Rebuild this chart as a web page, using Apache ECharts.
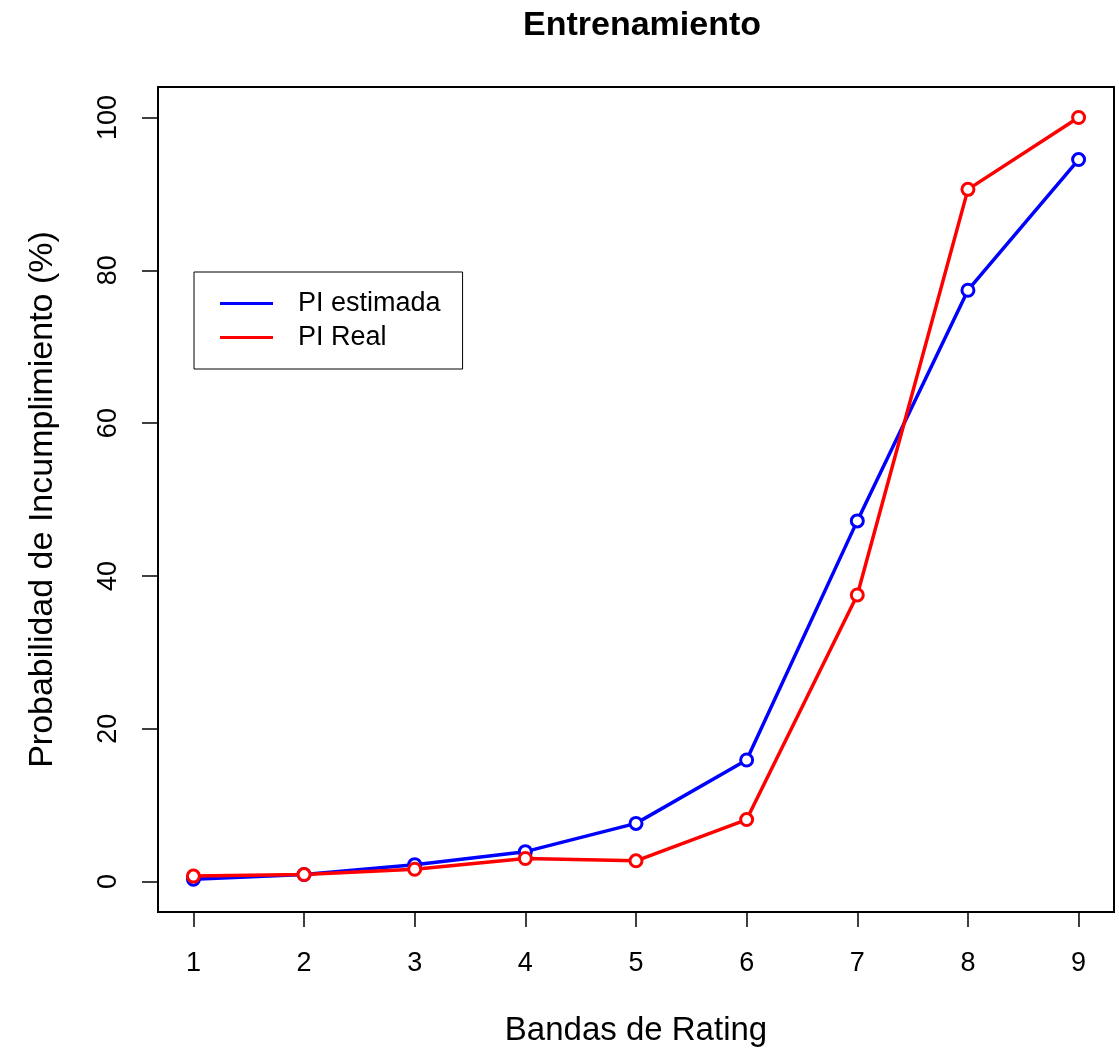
<!DOCTYPE html>
<html>
<head>
<meta charset="utf-8">
<script src="https://cdn.jsdelivr.net/npm/echarts@6/dist/echarts.min.js"></script>
<style>
html,body{margin:0;padding:0;background:#fff;}
#chart{width:1119px;height:1052px;}
</style>
</head>
<body>
<div id="chart"></div>
<script>
const bandas = [1, 2, 3, 4, 5, 6, 7, 8, 9];
const piEstimada = [0.3, 0.9, 2.2, 3.9, 7.6, 15.9, 47.2, 77.4, 94.5];
const piReal = [0.7, 0.9, 1.6, 3.0, 2.7, 8.1, 37.5, 90.6, 100];
const yTicks = [0, 20, 40, 60, 80, 100];
const seriesNames = ['PI estimada', 'PI Real'];
const seriesColors = ['#0000FF', '#FF0000'];

const FONT = 'Liberation Sans, Arial, sans-serif';
const chart = echarts.init(document.getElementById('chart'));

const mk = (vals) => bandas.map((b, i) => [b, vals[i]]);

chart.setOption({
  backgroundColor: '#ffffff',
  animation: false,
  title: {
    text: 'Entrenamiento',
    left: 637,
    top: 4,
    textAlign: 'center',
    textStyle: { fontFamily: FONT, fontWeight: 'bold', fontSize: 34, color: '#000' }
  },
  legend: {
    orient: 'vertical',
    left: 194,
    top: 272,
    padding: [18, 22, 18, 26],
    borderColor: '#000',
    borderWidth: 1,
    itemWidth: 53,
    itemHeight: 3,
    itemGap: 7,
    icon: 'rect',
    data: seriesNames.map((n, i) => ({ name: n, itemStyle: { color: seriesColors[i], borderWidth: 0 } })),
    textStyle: { fontFamily: FONT, fontSize: 27, color: '#000', padding: [0, 0, 0, 20] }
  },
  grid: {
    left: 158, right: 5, top: 87, bottom: 138,
    show: true, borderColor: '#000', borderWidth: 2, backgroundColor: 'transparent'
  },
  xAxis: {
    type: 'value',
    min: 0.68, max: 9.32,
    name: 'Bandas de Rating',
    nameLocation: 'middle',
    nameGap: 102,
    nameTextStyle: { fontFamily: FONT, fontSize: 33, color: '#000' },
    axisLine: { show: false, onZero: false },
    splitLine: { show: false },
    axisTick: { show: true, length: 15, lineStyle: { color: '#000', width: 1.5 }, customValues: bandas },
    axisLabel: { fontFamily: FONT, fontSize: 27, color: '#000', margin: 38, customValues: bandas }
  },
  yAxis: {
    type: 'value',
    min: -4, max: 104,
    name: 'Probabilidad de Incumplimiento (%)',
    nameLocation: 'middle',
    nameGap: 98,
    nameTextStyle: { fontFamily: FONT, fontSize: 34, color: '#000' },
    axisLine: { show: false, onZero: false },
    splitLine: { show: false },
    axisTick: { show: true, length: 16, lineStyle: { color: '#000', width: 1.5 }, customValues: yTicks },
    axisLabel: { fontFamily: FONT, fontSize: 27, color: '#000', margin: 36, rotate: 90, customValues: yTicks }
  },
  series: [
    {
      name: seriesNames[0], type: 'line', data: mk(piEstimada),
      color: seriesColors[0],
      symbol: 'circle', symbolSize: 12,
      lineStyle: { width: 3.5, color: seriesColors[0] },
      itemStyle: { color: '#ffffff', borderColor: seriesColors[0], borderWidth: 3 }
    },
    {
      name: seriesNames[1], type: 'line', data: mk(piReal),
      color: seriesColors[1],
      symbol: 'circle', symbolSize: 12,
      lineStyle: { width: 3.5, color: seriesColors[1] },
      itemStyle: { color: '#ffffff', borderColor: seriesColors[1], borderWidth: 3 }
    }
  ]
});
</script>
</body>
</html>
